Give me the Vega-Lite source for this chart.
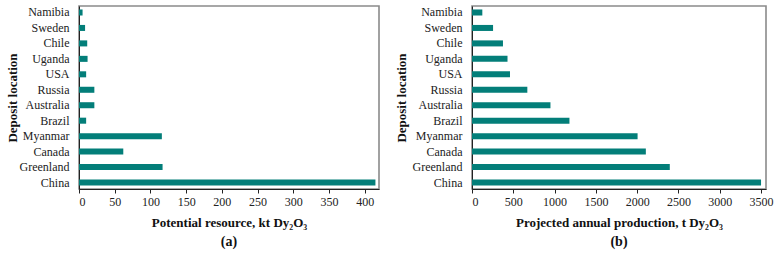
{
  "$schema": "https://vega.github.io/schema/vega-lite/v6.json",
  "padding": {"left": 5, "top": 5, "right": 4, "bottom": 4},
  "spacing": 14,
  "background": "white",
  "config": {
    "font": "Liberation Serif",
    "view": {"stroke": "#8a8a8a", "strokeWidth": 1.6},
    "axis": {
      "labelFont": "Liberation Serif",
      "titleFont": "Liberation Serif",
      "labelFontSize": 12,
      "titleFontSize": 13,
      "titleFontWeight": "bold",
      "labelColor": "#222",
      "titleColor": "#111",
      "domainColor": "#222",
      "tickColor": "#222",
      "grid": false
    },
    "title": {"font": "Liberation Serif", "fontSize": 14, "fontWeight": "bold", "color": "#111"}
  },
  "datasets": {
    "deposits": [
      {"country": "Namibia", "resource": 5, "production": 125},
      {"country": "Sweden", "resource": 8.5, "production": 255},
      {"country": "Chile", "resource": 11.5, "production": 375},
      {"country": "Uganda", "resource": 12, "production": 430},
      {"country": "USA", "resource": 10, "production": 460},
      {"country": "Russia", "resource": 21.5, "production": 670},
      {"country": "Australia", "resource": 21.5, "production": 950},
      {"country": "Brazil", "resource": 10, "production": 1180},
      {"country": "Myanmar", "resource": 116, "production": 2005},
      {"country": "Canada", "resource": 62, "production": 2105},
      {"country": "Greenland", "resource": 117, "production": 2395},
      {"country": "China", "resource": 415, "production": 3500}
    ]
  },
  "hconcat": [
    {
      "title": {"text": "(a)", "orient": "bottom", "offset": 6},
      "width": 300,
      "height": 183,
      "data": {"name": "deposits"},
      "mark": {"type": "bar", "color": "#037e79"},
      "encoding": {
        "y": {
          "field": "country", "type": "nominal", "sort": null,
          "scale": {"paddingInner": 0.61, "paddingOuter": 0.225},
          "axis": {"title": "Deposit location", "ticks": false, "labelPadding": 10,
                   "titleX": -67, "titleY": 91.5, "titleAngle": -90, "titleAlign": "center", "titleBaseline": "middle"}
        },
        "x": {
          "field": "resource", "type": "quantitative",
          "scale": {"domain": [0, 420], "nice": false},
          "axis": {"title": "Potential resource, kt Dy₂O₃", "values": [0, 50, 100, 150, 200, 250, 300, 350, 400],
                   "format": "d", "tickSize": 4, "labelPadding": 3, "titlePadding": 9}
        }
      }
    },
    {
      "title": {"text": "(b)", "orient": "bottom", "offset": 6},
      "width": 294,
      "height": 183,
      "data": {"name": "deposits"},
      "mark": {"type": "bar", "color": "#037e79"},
      "encoding": {
        "y": {
          "field": "country", "type": "nominal", "sort": null,
          "scale": {"paddingInner": 0.61, "paddingOuter": 0.225},
          "axis": {"title": "Deposit location", "ticks": false, "labelPadding": 10,
                   "titleX": -71, "titleY": 91.5, "titleAngle": -90, "titleAlign": "center", "titleBaseline": "middle"}
        },
        "x": {
          "field": "production", "type": "quantitative",
          "scale": {"domain": [0, 3560], "nice": false},
          "axis": {"title": "Projected annual production, t Dy₂O₃", "values": [0, 500, 1000, 1500, 2000, 2500, 3000, 3500],
                   "format": "d", "tickSize": 4, "labelPadding": 3, "titlePadding": 9}
        }
      }
    }
  ]
}
